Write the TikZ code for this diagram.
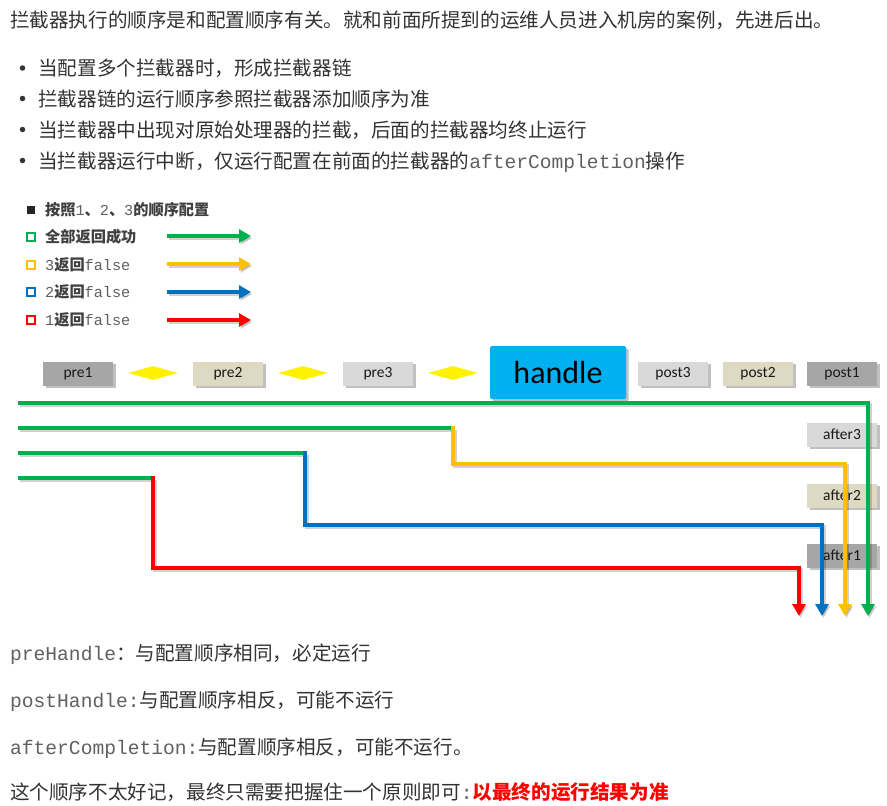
\documentclass[tikz,border=0pt]{standalone}
\usepackage{fontspec}
\setmainfont{Noto Sans CJK SC}
\newfontfamily\monof{Liberation Mono}
\newfontfamily\calf{Carlito}
\usetikzlibrary{arrows.meta,shapes.geometric,shadows}
\definecolor{txt}{HTML}{333333}
\definecolor{monoc}{HTML}{606060}
\definecolor{legtxt}{HTML}{404040}
\definecolor{gA}{HTML}{A6A6A6}
\definecolor{gB}{HTML}{DDD9C3}
\definecolor{gC}{HTML}{D9D9D9}
\definecolor{hbl}{HTML}{00B0F0}
\definecolor{lgreen}{HTML}{00B050}
\definecolor{lorange}{HTML}{FFC000}
\definecolor{lblue}{HTML}{0070C0}
\definecolor{lred}{HTML}{FF0000}
\definecolor{dyel}{HTML}{FFF200}
\tikzset{
  box/.style={rectangle, minimum width=70pt, minimum height=24pt, inner sep=0pt,
    font=\calf\fontsize{15.5}{18}\selectfont, text=black!90,
    drop shadow={shadow xshift=2.5pt, shadow yshift=-2.5pt, opacity=0.35, fill=black!70}},
  diam/.style={diamond, fill=dyel, minimum width=50pt, minimum height=14pt, inner sep=0pt, aspect=3.5},
  ln/.style={line width=4pt},
  lnc/.style={line width=4pt, line cap=rect},
  lsh/.style={line width=4pt, black, opacity=0.18, transform canvas={shift={(1.5pt,-2pt)}}},
  tip/.style={-{Triangle[length=12pt,width=13pt]}},
  ltip/.style={-{Triangle[length=12pt,width=13pt]}},
  para/.style={anchor=base west, inner sep=0pt, text=txt, font=\fontsize{19.6}{22}\selectfont},
  leg/.style={anchor=base west, inner sep=0pt, text=legtxt, font=\bfseries\fontsize{15.2}{17}\selectfont},
  sq/.style={rectangle, draw=#1, line width=2pt, minimum size=8pt, inner sep=0pt},
  bul/.style={circle, fill=txt, minimum size=5.5pt, inner sep=0pt}
}
\newcommand{\mo}[1]{{\monof\color{monoc}#1}}
\newcommand{\mol}[1]{{\monof\mdseries\color{monoc}#1}}
\begin{document}
\begin{tikzpicture}[x=1pt,y=-1pt]
\useasboundingbox (0,0) rectangle (887,806);
\fill[white] (0,0) rectangle (887,806);

% ---- top text ----
\node[para] (t0) at (10,27) {拦截器执行的顺序是和配置顺序有关。就和前面所提到的运维人员进入机房的案例，先进后出。};
\node[bul] (b1) at (22.5,68) {};
\node[para] (t1) at (38,75.5) {当配置多个拦截器时，形成拦截器链};
\node[bul] (b2) at (22.5,98.5) {};
\node[para] (t2) at (38,106) {拦截器链的运行顺序参照拦截器添加顺序为准};
\node[bul] (b3) at (22.5,129.5) {};
\node[para] (t3) at (38,137) {当拦截器中出现对原始处理器的拦截，后面的拦截器均终止运行};
\node[bul] (b4) at (22.5,160.5) {};
\node[para] (t4) at (38,168) {当拦截器运行中断，仅运行配置在前面的拦截器的\mo{afterCompletion}操作};

% ---- legend ----
\node[rectangle, fill=black!85, minimum size=8pt, inner sep=0pt] (s0) at (31,210) {};
\node[leg] (l0) at (45,215.5) {按照\mol{1}、\mol{2}、\mol{3}的顺序配置};
\node[sq=lgreen] (s1) at (31,237) {};
\node[leg] (l1) at (45,242.5) {全部返回成功};
\node[sq=lorange] (s2) at (31,265) {};
\node[leg] (l2) at (45,270.5) {\mol{3}返回\mol{false}};
\node[sq=lblue] (s3) at (31,292) {};
\node[leg] (l3) at (45,297.5) {\mol{2}返回\mol{false}};
\node[sq=lred] (s4) at (31,320) {};
\node[leg] (l4) at (45,325.5) {\mol{1}返回\mol{false}};

\coordinate (a1s) at (167,236); \coordinate (a1e) at (251,236);
\coordinate (a2s) at (167,264); \coordinate (a2e) at (251,264);
\coordinate (a3s) at (167,292); \coordinate (a3e) at (251,292);
\coordinate (a4s) at (167,320); \coordinate (a4e) at (251,320);
\foreach \s/\e/\c in {a1s/a1e/lgreen, a2s/a2e/lorange, a3s/a3e/lblue, a4s/a4e/lred}{
  \draw[lsh,ltip] (\s) -- (\e);
  \draw[ln,ltip,\c] (\s) -- (\e);
}

% ---- boxes ----
\node[box, fill=gA] (pre1) at (78,373.5) {pre1};
\node[diam] (d1) at (153,373) {};
\node[box, fill=gB] (pre2) at (228,373.5) {pre2};
\node[diam] (d2) at (303,373) {};
\node[box, fill=gC] (pre3) at (378,373.5) {pre3};
\node[diam] (d3) at (453,373) {};
\node[rectangle, fill=hbl, minimum width=136pt, minimum height=53pt, inner sep=0pt,
  rounded corners=1.5pt, font=\calf\fontsize{32}{36}\selectfont, text=black,
  drop shadow={shadow xshift=2.5pt, shadow yshift=-2.5pt, opacity=0.35, fill=black!70}] (handle) at (558,372.5) {handle};
\node[box, fill=gC] (post3) at (673,373.5) {post3};
\node[box, fill=gB] (post2) at (758,373.5) {post2};
\node[box, fill=gA] (post1) at (842,373.5) {post1};
\node[box, fill=gC] (after3) at (842,434.5) {after3};
\node[box, fill=gB] (after2) at (842,495.5) {after2};
\node[box, fill=gA] (after1) at (842,555.5) {after1};

% ---- flow lines ----
\coordinate (g1s) at (18,403); \coordinate (g1c) at (868,403); \coordinate (g1e) at (868,616);
\coordinate (g2s) at (18,428); \coordinate (g2k) at (453,428); \coordinate (o2a) at (453,464); \coordinate (o2b) at (845,464); \coordinate (o2e) at (845,616);
\coordinate (g3s) at (18,453); \coordinate (g3k) at (305,453); \coordinate (b3a) at (305,525); \coordinate (b3b) at (822,525); \coordinate (b3e) at (822,616);
\coordinate (g4s) at (18,478); \coordinate (g4k) at (153,478); \coordinate (r4a) at (153,568); \coordinate (r4b) at (799,568); \coordinate (r4e) at (799,616);

% shadows
\draw[lsh,tip] (g1s) -- (g1c) -- (g1e);
\draw[lsh] (g2s) -- (g2k);
\draw[lsh,tip] (g2k) -- (o2a) -- (o2b) -- (o2e);
\draw[lsh] (g3s) -- (g3k);
\draw[lsh,tip] (g3k) -- (b3a) -- (b3b) -- (b3e);
\draw[lsh] (g4s) -- (g4k);
\draw[lsh,tip] (g4k) -- (r4a) -- (r4b) -- (r4e);

% lines
\draw[ln,lgreen,tip] (g1s) -- (g1c) -- (g1e);
\draw[ln,lgreen] (g2s) -- (g2k);
\draw[lnc,lorange,tip] (g2k) -- (o2a) -- (o2b) -- (o2e);
\draw[ln,lgreen] (g3s) -- (g3k);
\draw[lnc,lblue,tip] (g3k) -- (b3a) -- (b3b) -- (b3e);
\draw[ln,lgreen] (g4s) -- (g4k);
\draw[lnc,lred,tip] (g4k) -- (r4a) -- (r4b) -- (r4e);

% ---- bottom text ----
\node[para] (p1) at (10,660.5) {\mo{preHandle}：与配置顺序相同，必定运行};
\node[para] (p2) at (10,707.5) {\mo{postHandle:}与配置顺序相反，可能不运行};
\node[para] (p3) at (10,754.5) {\mo{afterCompletion:}与配置顺序相反，可能不运行。};
\node[para] (p4) at (10,799.5) {这个顺序不太好记，最终只需要把握住一个原则即可\mo{:}{\bfseries\color{lred}以最终的运行结果为准}};
\end{tikzpicture}
\end{document}
